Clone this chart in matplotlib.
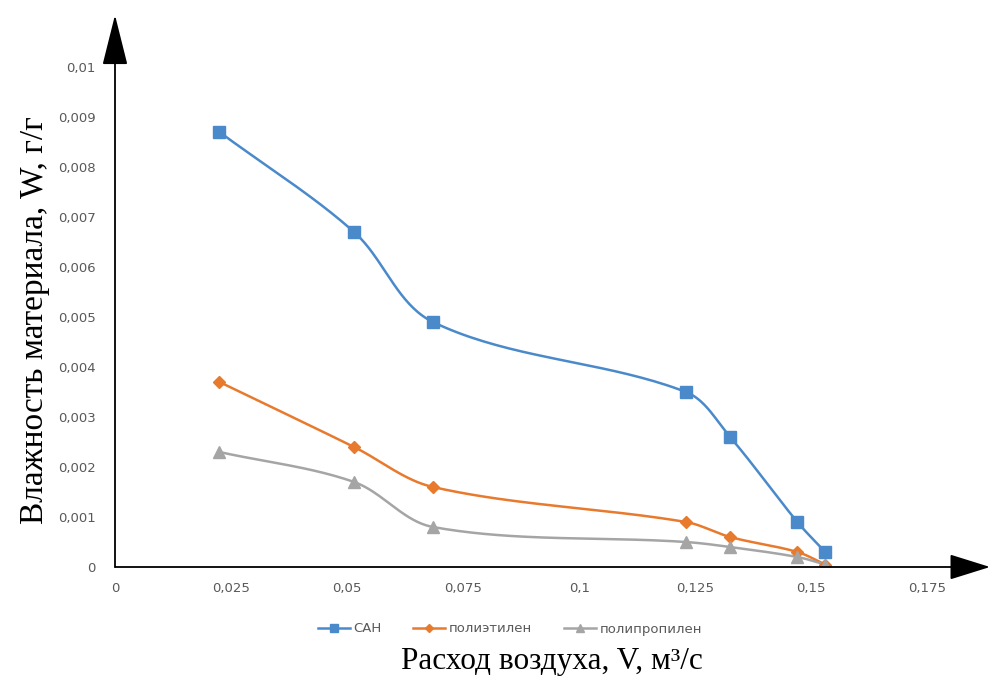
import numpy as np
import matplotlib
matplotlib.use('Agg')
import matplotlib.pyplot as plt

# Air flow, m3/s
flow = [0.0225, 0.0515, 0.0685, 0.123, 0.1325, 0.147, 0.153]

# Moisture of material, g/g
san = [0.0087, 0.0067, 0.0049, 0.0035, 0.0026, 0.0009, 0.0003]
polyethylene = [0.0037, 0.0024, 0.0016, 0.0009, 0.0006, 0.0003, 0.00005]
polypropylene = [0.0023, 0.0017, 0.0008, 0.0005, 0.0004, 0.0002, 0.00005]

series_names = ['САН', 'полиэтилен', 'полипропилен']
x_ticks = [0, 0.025, 0.05, 0.075, 0.1, 0.125, 0.15, 0.175]
y_ticks = [0, 0.001, 0.002, 0.003, 0.004, 0.005, 0.006, 0.007, 0.008, 0.009, 0.01]


def fmt(v):
    # comma as decimal separator, like the original spreadsheet
    s = ('%.3f' % v).rstrip('0').rstrip('.')
    return s.replace('.', ',')


# Smoothed line through the points, computed in screen space so that
# short segments don't overshoot (like a spreadsheet's smoothed line)
def smooth(ax, x, y, steps=40):
    p = ax.transData.transform(np.column_stack([x, y]))
    n = len(p)
    out = []
    t = np.linspace(0, 1, steps)[:, None]
    for i in range(n - 1):
        p1, p2 = p[i], p[i + 1]
        seg_len = np.linalg.norm(p2 - p1)
        d1 = p2 - p[max(i - 1, 0)]
        d2 = p[min(i + 2, n - 1)] - p1
        d1 = d1 / np.linalg.norm(d1)
        d2 = d2 / np.linalg.norm(d2)
        c1 = p1 + d1 * seg_len / 3
        c2 = p2 - d2 * seg_len / 3
        seg = ((1 - t) ** 3) * p1 + 3 * ((1 - t) ** 2) * t * c1 + 3 * (1 - t) * t ** 2 * c2 + t ** 3 * p2
        out.append(seg)
    pts = ax.transData.inverted().transform(np.vstack(out))
    return pts[:, 0], pts[:, 1]


fig = plt.figure(figsize=(9.94, 6.80), dpi=100)
ax = fig.add_axes([115 / 994, (680 - 567) / 680, (990 - 115) / 994, (567 - 15) / 680])
ax.set_xlim(0, 0.1885)
ax.set_ylim(0, 0.01104)

styles = [
    (san, '#4A8ACB', 's', 9),
    (polyethylene, '#E87A2E', 'D', 6),
    (polypropylene, '#A5A5A5', '^', 8),
]

handles = []
for (vals, color, marker, ms), name in zip(styles, series_names):
    sx, sy = smooth(ax, flow, vals)
    ax.plot(sx, sy, color=color, lw=1.8, zorder=2)
    ax.plot(flow, vals, ls='none', marker=marker, ms=ms, color=color, zorder=3)
    h, = ax.plot([], [], color=color, lw=1.8, marker=marker, ms=ms * 0.65, label=name)
    handles.append(h)

ax.set_xticks(x_ticks)
ax.set_xticklabels([fmt(v) for v in x_ticks])
ax.set_yticks(y_ticks)
ax.set_yticklabels([fmt(v) for v in y_ticks])
ax.tick_params(length=0, labelsize=9.5, colors='#595959', pad=11)
ax.tick_params(axis='y', pad=14)
for s in ax.spines.values():
    s.set_visible(False)

# axes with arrows
ax.annotate('', xy=(1, 0), xytext=(0, 0), xycoords='axes fraction',
            arrowprops=dict(arrowstyle='-|>,head_length=1.6,head_width=0.5',
                            color='black', lw=1.3, mutation_scale=16, shrinkA=0, shrinkB=0))
ax.annotate('', xy=(0, 1), xytext=(0, 0), xycoords='axes fraction',
            arrowprops=dict(arrowstyle='-|>,head_length=2.0,head_width=0.5',
                            color='black', lw=1.3, mutation_scale=16, shrinkA=0, shrinkB=0))

leg = ax.legend(handles=handles, loc='center', bbox_to_anchor=(510 / 994, 1 - 629 / 680),
                bbox_transform=fig.transFigure, ncol=3, frameon=False, fontsize=9.5,
                handlelength=2.4, columnspacing=2.4, handletextpad=0.3)
for t in leg.get_texts():
    t.set_color('#595959')

serif = ['Liberation Serif', 'DejaVu Serif']
fig.text(35 / 994, 1 - 320 / 680, 'Влажность материала, W, г/г', rotation=90,
         ha='center', va='center', fontsize=24, family=serif)
fig.text(552 / 994, 1 - 662 / 680, 'Расход воздуха, V, м³/с',
         ha='center', va='center', fontsize=22.5, family=serif)

fig.savefig('out.png', dpi=100)
